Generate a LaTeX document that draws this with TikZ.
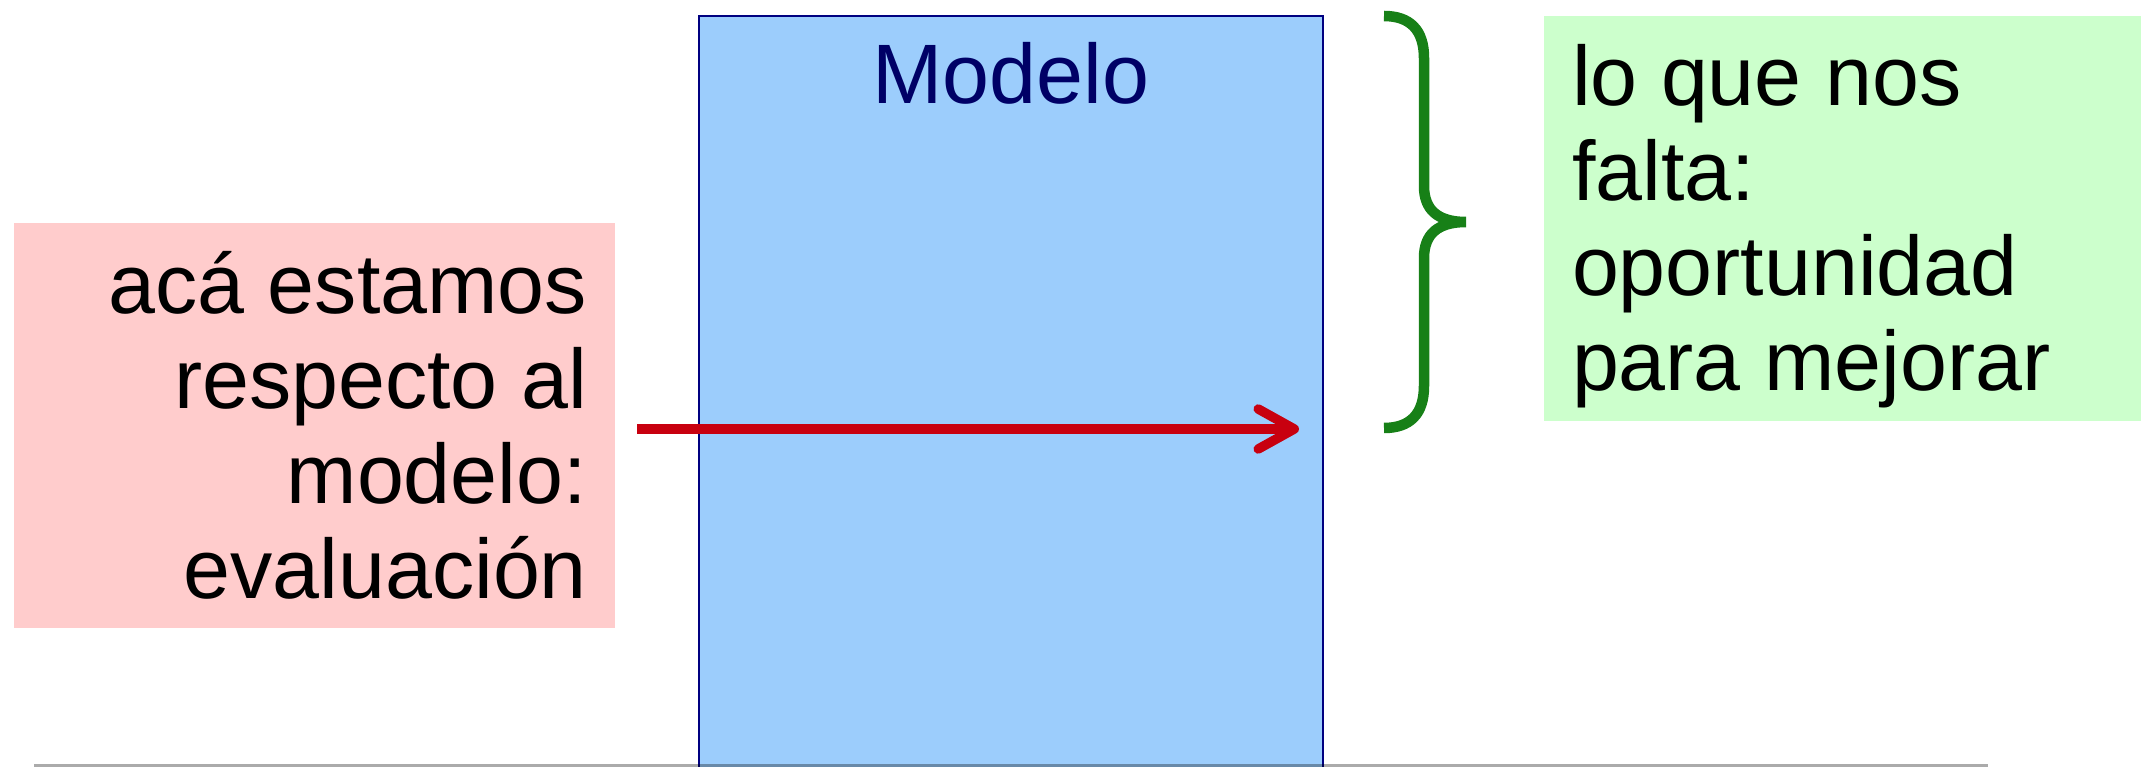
\documentclass[tikz,border=0pt]{standalone}
\usepackage{fontspec}
\setmainfont{Liberation Sans}
\usetikzlibrary{arrows.meta}
\definecolor{pinkfill}{HTML}{FFCCCC}
\definecolor{greenfill}{HTML}{CCFFCC}
\definecolor{bluefill}{HTML}{9CCDFC}
\definecolor{navyline}{HTML}{000080}
\definecolor{navytext}{HTML}{000066}
\definecolor{arrowred}{HTML}{C8000F}
\definecolor{bracegreen}{HTML}{178017}
\begin{document}
\begin{tikzpicture}[x=0.01cm, y=-0.01cm,
  boxnode/.style={rectangle, inner sep=0pt, outer sep=0pt, draw=none},
  bigtext/.style={font=\fontsize{24pt}{27pt}\selectfont, inner sep=0pt, outer sep=0pt},
  arrowline/.style={draw=arrowred, line width=0.095cm,
    -{Straight Barb[length=0.36cm, width=0.4cm, round]}},
  braceline/.style={draw=bracegreen, line width=0.105cm},
  borderline/.style={draw=navyline, line width=0.02cm},
  groundline/.style={draw=black, opacity=0.33, line width=0.03cm}]
\useasboundingbox (0,0) rectangle (2141,767);
% model box
\node[boxnode, fill=bluefill, minimum width=6.24cm, minimum height=7.51cm, anchor=north west] (modelbox) at (699,16) {};
\draw[borderline] (modelbox.south west) -- (modelbox.north west) -- (modelbox.north east) -- (modelbox.south east);
\node[bigtext, text=navytext, anchor=base] (modeltitle) at (1011,104) {Modelo};
% evaluation box
\node[boxnode, fill=pinkfill, minimum width=6.01cm, minimum height=4.05cm, anchor=north west] (evalbox) at (14,223) {};
\node[bigtext, align=right, anchor=base east] (evaltext) at (587,598) {acá estamos\\respecto al\\modelo:\\evaluación};
% gap box
\node[boxnode, fill=greenfill, minimum width=5.97cm, minimum height=4.05cm, anchor=north west] (gapbox) at (1544,16) {};
\node[bigtext, align=left, anchor=base west] (gaptext) at (1572,390) {lo que nos\\falta:\\oportunidad\\para mejorar};
% arrow
\coordinate (arrowstart) at (637,429);
\coordinate (arrowend) at (1299,429);
\draw[arrowline] (arrowstart) -- (arrowend);
% brace
\coordinate (bracetop) at (1384,16);
\coordinate (bracetip) at (1466,222);
\coordinate (bracebottom) at (1384,428);
\draw[braceline] (bracetop) .. controls (1410,16) and (1424,30) .. (1424,58)
  -- (1424,186) .. controls (1424,210) and (1438,222) .. (bracetip)
  .. controls (1438,222) and (1424,234) .. (1424,258)
  -- (1424,386) .. controls (1424,414) and (1410,428) .. (bracebottom);
% ground line
\coordinate (groundleft) at (34,765.5);
\coordinate (groundright) at (1988,765.5);
\draw[groundline] (groundleft) -- (groundright);
\end{tikzpicture}
\end{document}
